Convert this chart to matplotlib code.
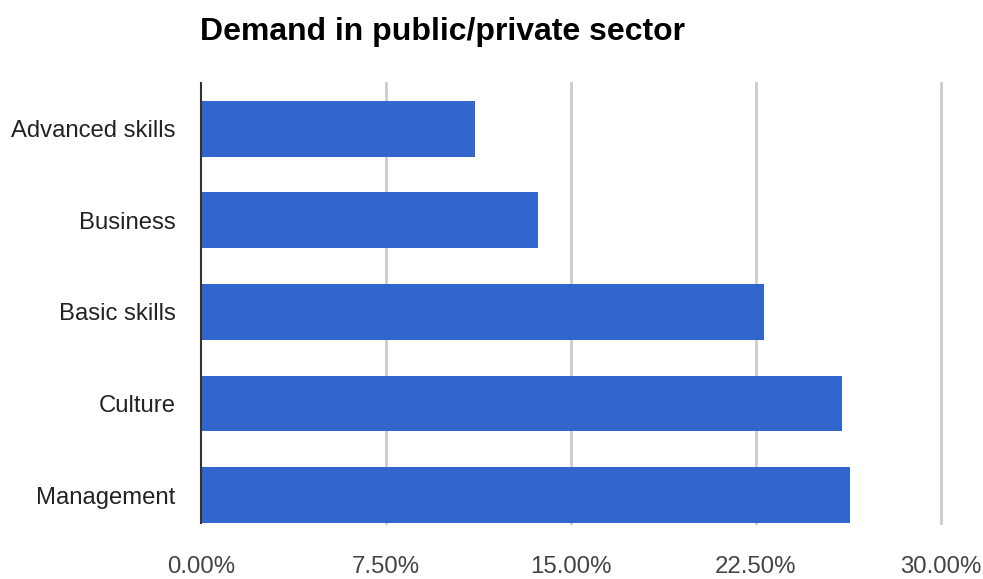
import matplotlib
matplotlib.use('Agg')
import matplotlib.pyplot as plt
from matplotlib.ticker import FuncFormatter

# values (percent)
categories = ['Advanced skills', 'Business', 'Basic skills', 'Culture', 'Management']
values = [11.13, 13.66, 22.82, 25.99, 26.30]
xticks = [0, 7.5, 15, 22.5, 30]

plt.rcParams['font.family'] = ['Liberation Sans', 'DejaVu Sans']

fig = plt.figure(figsize=(9.83, 5.79), dpi=100)
ax = fig.add_axes([200.7 / 983, 56 / 579, 740.3 / 983, 440 / 579])

ypos = list(range(len(categories)))
ax.barh(ypos, values, height=0.61, color='#3366cc', zorder=3)

ax.set_xlim(0, 30)
ax.set_ylim(4.305, -0.5)
ax.set_yticks(ypos)
ax.set_yticklabels(categories)
ax.set_xticks(xticks)
ax.xaxis.set_major_formatter(FuncFormatter(lambda v, p: f'{v:.2f}%'))

# gridlines drawn unclipped so the 30% line is as thick as the others
for x in xticks[1:]:
    ax.axvline(x, color='#cccccc', linewidth=2, zorder=0, clip_on=False)
for s in ['top', 'right', 'bottom']:
    ax.spines[s].set_visible(False)
ax.spines['left'].set_color('#333333')
ax.spines['left'].set_linewidth(1.5)
ax.spines['left'].set_zorder(4)

ax.tick_params(axis='y', length=0, pad=18, labelsize=17.2, labelcolor='#222222')
ax.tick_params(axis='x', length=0, pad=24, labelsize=17.3, labelcolor='#444444')

fig.text(200 / 983, 1 - 40 / 579, 'Demand in public/private sector',
         fontsize=23, fontweight='bold', color='#000000', va='baseline', ha='left')

fig.savefig('out.png', dpi=100)
